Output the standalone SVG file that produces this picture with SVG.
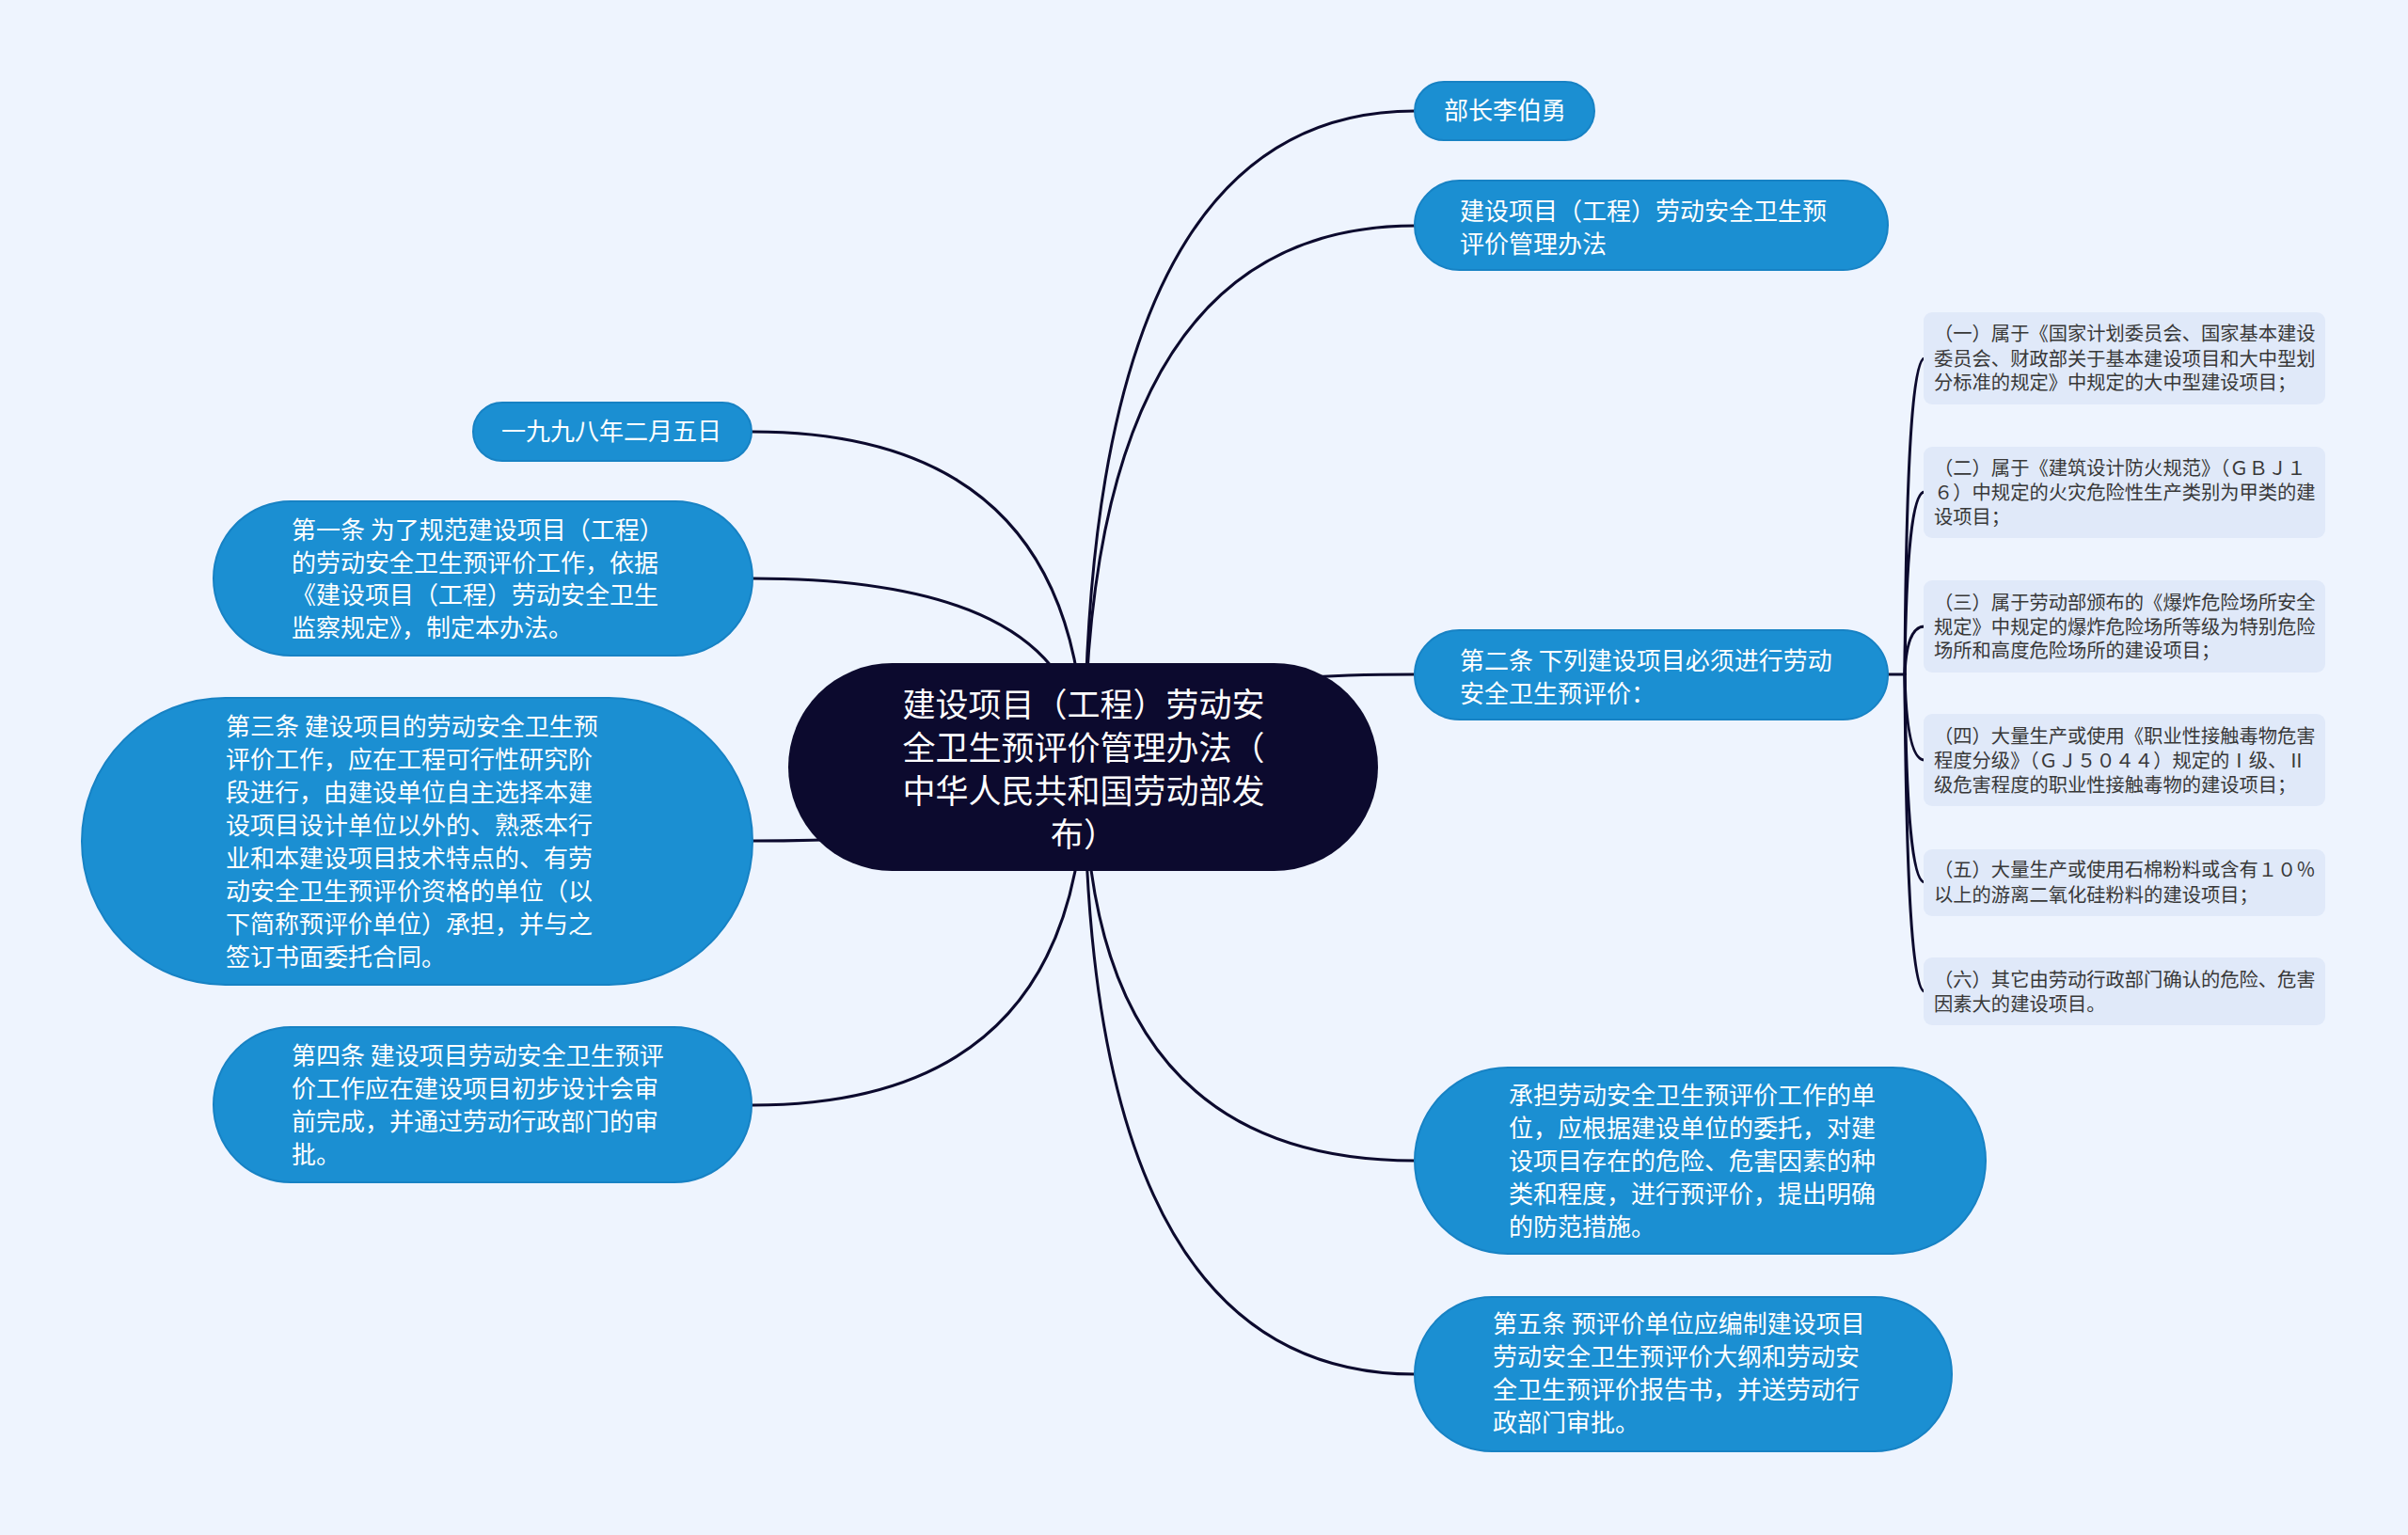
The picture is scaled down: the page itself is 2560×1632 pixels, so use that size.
<svg xmlns="http://www.w3.org/2000/svg" width="2560" height="1632" viewBox="0 0 2560 1632">
<style>
.bg{fill:#eef4fe}
.conn{fill:none;stroke:#0c0a2e;stroke-width:3;stroke-linecap:round}
.root{fill:#0c0a2e}
.blue{fill:#1b8fd2;stroke:#1782c4;stroke-width:2}
.sub{fill:#e0e9f9}
.t{font-family:"Noto Sans CJK SC","Noto Sans",sans-serif}
.rt{fill:#ffffff;font-size:35px;text-anchor:middle}
.bt{fill:#ffffff;font-size:26px}
.st{fill:#383838;font-size:20.3px}
</style>
<rect class="bg" x="0" y="0" width="2560" height="1632"/>
<g id="connectors">
<path class="conn" d="M1153,815 Q1153,118 1504,118"/>
<path class="conn" d="M1153,815 Q1153,240 1504,240"/>
<path class="conn" d="M1153,815 Q1153,717 1504,717"/>
<path class="conn" d="M1153,815 Q1153,1234 1504,1234"/>
<path class="conn" d="M1153,815 Q1153,1461 1504,1461"/>
<path class="conn" d="M1153,815 Q1153,459 800,459"/>
<path class="conn" d="M1153,815 Q1153,615 800,615"/>
<path class="conn" d="M1153,815 Q1153,894 800,894"/>
<path class="conn" d="M1153,815 Q1153,1175 800,1175"/>
<path class="conn" d="M2005,717 H2025"/>
<path class="conn" d="M2025,717 Q2027,381 2046,381"/>
<path class="conn" d="M2025,717 Q2027,523 2046,523"/>
<path class="conn" d="M2025,717 Q2027,666 2046,666"/>
<path class="conn" d="M2025,717 Q2027,808 2046,808"/>
<path class="conn" d="M2025,717 Q2027,938 2046,938"/>
<path class="conn" d="M2025,717 Q2027,1054 2046,1054"/>
</g>
<g id="root">
<rect class="root" x="838" y="705" width="627" height="221" rx="110.5"/>
<text class="t rt" x="1152"><tspan x="1152" y="762">建设项目（工程）劳动安</tspan><tspan x="1152" y="808">全卫生预评价管理办法（</tspan><tspan x="1152" y="854">中华人民共和国劳动部发</tspan><tspan x="1152" y="900">布）</tspan></text>
</g>
<g id="n-buzhang">
<rect class="blue" x="1504" y="87" width="191" height="62" rx="31"/>
<text class="t bt" x="1535" y="127">部长李伯勇</text>
</g>
<g id="n-title">
<rect class="blue" x="1504" y="192" width="503" height="95" rx="47.5"/>
<text class="t bt"><tspan x="1552" y="234">建设项目（工程）劳动安全卫生预</tspan><tspan x="1552" y="269">评价管理办法</tspan></text>
</g>
<g id="n-art2">
<rect class="blue" x="1504" y="670" width="503" height="95" rx="47.5"/>
<text class="t bt"><tspan x="1552" y="712">第二条 下列建设项目必须进行劳动</tspan><tspan x="1552" y="747">安全卫生预评价：</tspan></text>
</g>
<g id="n-s1">
<rect class="sub" x="2045" y="332" width="427" height="98" rx="9"/>
<text class="t st"><tspan x="2056" y="362">（一）属于《国家计划委员会、国家基本建设</tspan><tspan x="2056" y="389">委员会、财政部关于基本建设项目和大中型划</tspan><tspan x="2056" y="414">分标准的规定》中规定的大中型建设项目；</tspan></text>
</g>
<g id="n-s2">
<rect class="sub" x="2045" y="475" width="427" height="97" rx="9"/>
<text class="t st"><tspan x="2056" y="505">（二）属于《建筑设计防火规范》（ＧＢＪ１</tspan><tspan x="2056" y="531">６）中规定的火灾危险性生产类别为甲类的建</tspan><tspan x="2056" y="557">设项目；</tspan></text>
</g>
<g id="n-s3">
<rect class="sub" x="2045" y="617" width="427" height="98" rx="9"/>
<text class="t st"><tspan x="2056" y="648">（三）属于劳动部颁布的《爆炸危险场所安全</tspan><tspan x="2056" y="674">规定》中规定的爆炸危险场所等级为特别危险</tspan><tspan x="2056" y="699">场所和高度危险场所的建设项目；</tspan></text>
</g>
<g id="n-s4">
<rect class="sub" x="2045" y="759" width="427" height="98" rx="9"/>
<text class="t st"><tspan x="2056" y="790">（四）大量生产或使用《职业性接触毒物危害</tspan><tspan x="2056" y="816">程度分级》（ＧＪ５０４４）规定的Ⅰ级、Ⅱ</tspan><tspan x="2056" y="842">级危害程度的职业性接触毒物的建设项目；</tspan></text>
</g>
<g id="n-s5">
<rect class="sub" x="2045" y="903" width="427" height="71" rx="9"/>
<text class="t st"><tspan x="2056" y="932">（五）大量生产或使用石棉粉料或含有１０％</tspan><tspan x="2056" y="959">以上的游离二氧化硅粉料的建设项目；</tspan></text>
</g>
<g id="n-s6">
<rect class="sub" x="2045" y="1018" width="427" height="72" rx="9"/>
<text class="t st"><tspan x="2056" y="1049">（六）其它由劳动行政部门确认的危险、危害</tspan><tspan x="2056" y="1075">因素大的建设项目。</tspan></text>
</g>
<g id="n-undertake">
<rect class="blue" x="1504" y="1135" width="607" height="198" rx="99"/>
<text class="t bt"><tspan x="1604" y="1174">承担劳动安全卫生预评价工作的单</tspan><tspan x="1604" y="1209">位，应根据建设单位的委托，对建</tspan><tspan x="1604" y="1244">设项目存在的危险、危害因素的种</tspan><tspan x="1604" y="1279">类和程度，进行预评价，提出明确</tspan><tspan x="1604" y="1314">的防范措施。</tspan></text>
</g>
<g id="n-art5">
<rect class="blue" x="1504" y="1379" width="571" height="164" rx="82"/>
<text class="t bt"><tspan x="1587" y="1417">第五条 预评价单位应编制建设项目</tspan><tspan x="1587" y="1452">劳动安全卫生预评价大纲和劳动安</tspan><tspan x="1587" y="1487">全卫生预评价报告书，并送劳动行</tspan><tspan x="1587" y="1522">政部门审批。</tspan></text>
</g>
<g id="n-date">
<rect class="blue" x="503" y="428" width="296" height="62" rx="31"/>
<text class="t bt" x="533" y="468">一九九八年二月五日</text>
</g>
<g id="n-art1">
<rect class="blue" x="227" y="533" width="573" height="164" rx="82"/>
<text class="t bt"><tspan x="310" y="573">第一条 为了规范建设项目（工程）</tspan><tspan x="310" y="608">的劳动安全卫生预评价工作，依据</tspan><tspan x="310" y="642">《建设项目（工程）劳动安全卫生</tspan><tspan x="310" y="677">监察规定》，制定本办法。</tspan></text>
</g>
<g id="n-art3">
<rect class="blue" x="87" y="742" width="713" height="305" rx="152.5"/>
<text class="t bt"><tspan x="240" y="782">第三条 建设项目的劳动安全卫生预</tspan><tspan x="240" y="817">评价工作，应在工程可行性研究阶</tspan><tspan x="240" y="852">段进行，由建设单位自主选择本建</tspan><tspan x="240" y="887">设项目设计单位以外的、熟悉本行</tspan><tspan x="240" y="922">业和本建设项目技术特点的、有劳</tspan><tspan x="240" y="957">动安全卫生预评价资格的单位（以</tspan><tspan x="240" y="992">下简称预评价单位）承担，并与之</tspan><tspan x="240" y="1027">签订书面委托合同。</tspan></text>
</g>
<g id="n-art4">
<rect class="blue" x="227" y="1092" width="572" height="165" rx="82.5"/>
<text class="t bt"><tspan x="310" y="1132">第四条 建设项目劳动安全卫生预评</tspan><tspan x="310" y="1167">价工作应在建设项目初步设计会审</tspan><tspan x="310" y="1202">前完成，并通过劳动行政部门的审</tspan><tspan x="310" y="1237">批。</tspan></text>
</g>
</svg>
